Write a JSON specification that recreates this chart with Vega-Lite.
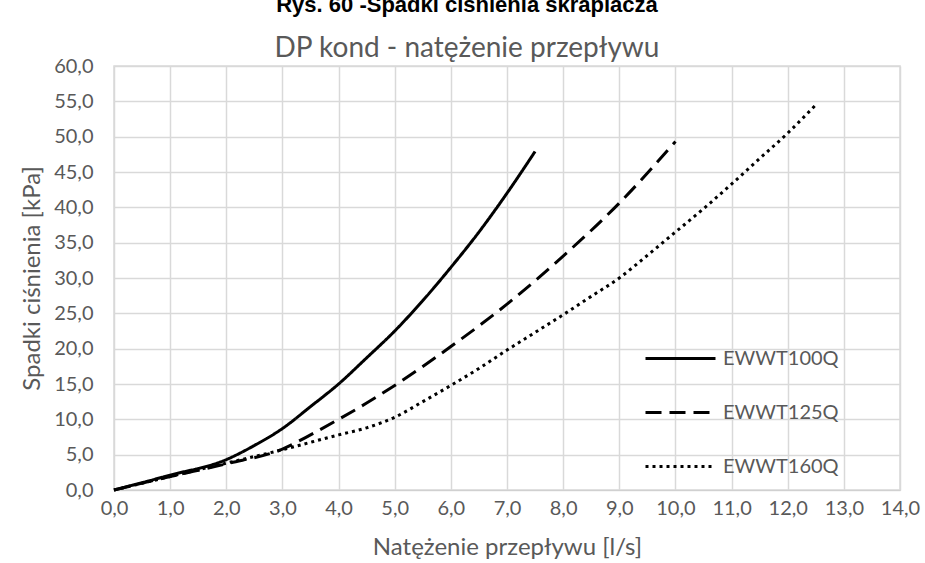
{
  "$schema": "https://vega.github.io/schema/vega-lite/v6.json",
  "width": 786,
  "height": 424,
  "autosize": {"type": "none"},
  "padding": {"left": 114, "top": 66, "right": 25, "bottom": 73},
  "background": "white",
  "title": {
    "text": "Rys. 60 -Spadki ciśnienia skraplacza",
    "subtitle": "DP kond - natężenie przepływu",
    "anchor": "middle",
    "dx": -40,
    "offset": -8,
    "font": "Liberation Sans",
    "fontSize": 22,
    "fontWeight": "bold",
    "color": "#000000",
    "subtitleFont": "Lato",
    "subtitleFontSize": 28,
    "subtitleColor": "#595959",
    "subtitlePadding": 18
  },
  "data": {
    "values": [
      {"q": 0, "dp": 0, "series": "EWWT100Q"},
      {"q": 1, "dp": 2.1, "series": "EWWT100Q"},
      {"q": 2, "dp": 4.3, "series": "EWWT100Q"},
      {"q": 2.5, "dp": 6.3, "series": "EWWT100Q"},
      {"q": 3, "dp": 8.7, "series": "EWWT100Q"},
      {"q": 3.5, "dp": 11.8, "series": "EWWT100Q"},
      {"q": 4, "dp": 15, "series": "EWWT100Q"},
      {"q": 4.5, "dp": 18.7, "series": "EWWT100Q"},
      {"q": 5, "dp": 22.5, "series": "EWWT100Q"},
      {"q": 5.5, "dp": 26.8, "series": "EWWT100Q"},
      {"q": 6, "dp": 31.5, "series": "EWWT100Q"},
      {"q": 6.5, "dp": 36.5, "series": "EWWT100Q"},
      {"q": 7, "dp": 42, "series": "EWWT100Q"},
      {"q": 7.5, "dp": 47.9, "series": "EWWT100Q"},
      {"q": 0, "dp": 0, "series": "EWWT125Q"},
      {"q": 1, "dp": 1.9, "series": "EWWT125Q"},
      {"q": 2, "dp": 3.7, "series": "EWWT125Q"},
      {"q": 3, "dp": 5.8, "series": "EWWT125Q"},
      {"q": 3.5, "dp": 7.8, "series": "EWWT125Q"},
      {"q": 4, "dp": 10, "series": "EWWT125Q"},
      {"q": 4.5, "dp": 12.3, "series": "EWWT125Q"},
      {"q": 5, "dp": 14.8, "series": "EWWT125Q"},
      {"q": 6, "dp": 20.3, "series": "EWWT125Q"},
      {"q": 7, "dp": 26.3, "series": "EWWT125Q"},
      {"q": 8, "dp": 33.1, "series": "EWWT125Q"},
      {"q": 9, "dp": 40.6, "series": "EWWT125Q"},
      {"q": 10, "dp": 49.3, "series": "EWWT125Q"},
      {"q": 0, "dp": 0, "series": "EWWT160Q"},
      {"q": 1, "dp": 1.9, "series": "EWWT160Q"},
      {"q": 2, "dp": 3.8, "series": "EWWT160Q"},
      {"q": 3, "dp": 5.7, "series": "EWWT160Q"},
      {"q": 4, "dp": 7.8, "series": "EWWT160Q"},
      {"q": 4.5, "dp": 8.8, "series": "EWWT160Q"},
      {"q": 5, "dp": 10.3, "series": "EWWT160Q"},
      {"q": 5.5, "dp": 12.5, "series": "EWWT160Q"},
      {"q": 6, "dp": 14.8, "series": "EWWT160Q"},
      {"q": 6.5, "dp": 17.2, "series": "EWWT160Q"},
      {"q": 7, "dp": 19.8, "series": "EWWT160Q"},
      {"q": 7.5, "dp": 22.3, "series": "EWWT160Q"},
      {"q": 8, "dp": 24.8, "series": "EWWT160Q"},
      {"q": 8.5, "dp": 27.4, "series": "EWWT160Q"},
      {"q": 9, "dp": 30, "series": "EWWT160Q"},
      {"q": 9.5, "dp": 33.2, "series": "EWWT160Q"},
      {"q": 10, "dp": 36.5, "series": "EWWT160Q"},
      {"q": 10.5, "dp": 39.8, "series": "EWWT160Q"},
      {"q": 11, "dp": 43.3, "series": "EWWT160Q"},
      {"q": 11.5, "dp": 46.9, "series": "EWWT160Q"},
      {"q": 12, "dp": 50.5, "series": "EWWT160Q"},
      {"q": 12.5, "dp": 54.5, "series": "EWWT160Q"}
    ]
  },
  "mark": {"type": "line", "color": "black", "strokeWidth": 3, "interpolate": "monotone"},
  "encoding": {
    "x": {
      "field": "q", "type": "quantitative",
      "scale": {"domain": [0, 14], "nice": false},
      "axis": {
        "values": [0,1,2,3,4,5,6,7,8,9,10,11,12,13,14],
        "format": ".1f",
        "labelExpr": "replace(datum.label, '.', ',')",
        "labelFlush": false,
        "labelOverlap": false,
        "title": "Natężenie przepływu [l/s]",
        "titleFont": "Lato", "titleFontSize": 24, "titleFontWeight": "normal", "titleColor": "#595959",
        "titlePadding": 17,
        "labelFont": "Lato", "labelFontSize": 20, "labelColor": "#595959",
        "labelPadding": 8,
        "ticks": false, "domainColor": "#d0d0d0", "gridColor": "#d9d9d9", "gridWidth": 1.5
      }
    },
    "y": {
      "field": "dp", "type": "quantitative",
      "scale": {"domain": [0, 60], "nice": false},
      "axis": {
        "values": [0,5,10,15,20,25,30,35,40,45,50,55,60],
        "format": ".1f",
        "labelExpr": "replace(datum.label, '.', ',')",
        "labelFlush": false,
        "labelOverlap": false,
        "title": "Spadki ciśnienia [kPa]",
        "titleFont": "Lato", "titleFontSize": 24, "titleFontWeight": "normal", "titleColor": "#595959",
        "titlePadding": 9,
        "labelFont": "Lato", "labelFontSize": 20, "labelColor": "#595959",
        "labelPadding": 21,
        "ticks": false, "domain": false, "gridColor": "#d9d9d9", "gridWidth": 1.5
      }
    },
    "strokeDash": {
      "field": "series", "type": "nominal",
      "scale": {"domain": ["EWWT100Q", "EWWT125Q", "EWWT160Q"], "range": [[1, 0], [16, 8], [3, 4]]},
      "legend": {
        "title": null,
        "orient": "none",
        "direction": "vertical",
        "columns": 1,
        "legendX": 530,
        "legendY": 256,
        "symbolType": "stroke",
        "symbolSize": 4900,
        "symbolStrokeWidth": 3,
        "symbolStrokeColor": "black",
        "labelFont": "Lato",
        "labelFontSize": 20,
        "labelColor": "#595959",
        "labelOffset": 6,
        "rowPadding": 7
      }
    }
  },
  "config": {"view": {"stroke": "#d9d9d9", "strokeWidth": 1.5}}
}
